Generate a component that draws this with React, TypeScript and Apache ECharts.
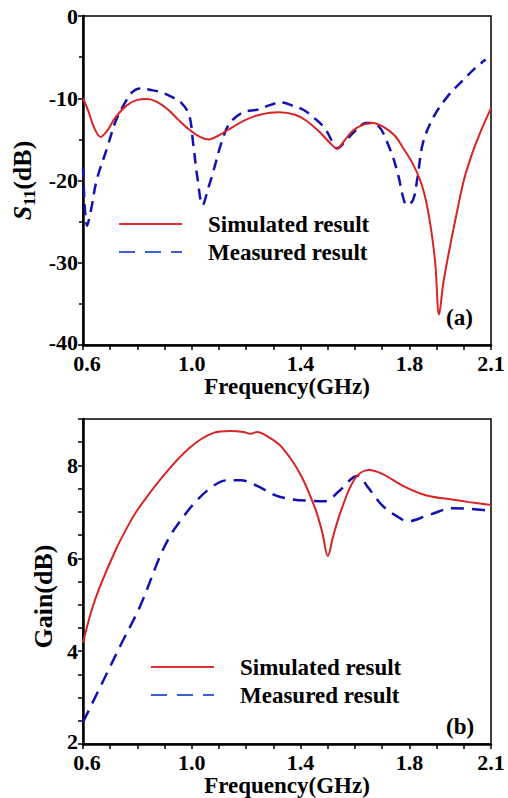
import React, { useEffect, useRef } from "react";
import * as echarts from "echarts";

// ---- (a) S11 data ----
const simS11Freq = [0.6, 0.62, 0.64, 0.665, 0.69, 0.72, 0.76, 0.8, 0.835, 0.87, 0.91, 0.95, 0.99, 1.03, 1.06, 1.1, 1.15, 1.2, 1.25, 1.32, 1.38, 1.42, 1.47, 1.51, 1.534, 1.56, 1.59, 1.63, 1.665, 1.7, 1.745, 1.78, 1.81, 1.84, 1.86, 1.88, 1.895, 1.909, 1.925, 1.95, 1.975, 2.0, 2.03, 2.06, 2.1];
const simS11 = [-10.0, -11.6, -13.5, -14.7, -13.9, -12.3, -10.9, -10.2, -10.1, -10.4, -11.3, -12.6, -13.8, -14.7, -15.0, -14.5, -13.5, -12.6, -12.0, -11.7, -12.0, -12.7, -14.1, -15.5, -16.1, -15.2, -14.0, -13.2, -13.0, -13.4, -14.5, -16.2, -17.8, -20.0, -22.3, -26.0, -30.0, -36.3, -32.4, -27.9, -23.8, -20.0, -16.8, -14.2, -11.2];

const meaS11Freq = [0.6, 0.615, 0.63, 0.65, 0.69, 0.72, 0.75, 0.78, 0.81, 0.85, 0.89, 0.93, 0.96, 0.99, 1.005, 1.02, 1.04, 1.06, 1.08, 1.11, 1.14, 1.19, 1.24, 1.29, 1.33, 1.37, 1.41, 1.45, 1.49, 1.52, 1.534, 1.57, 1.6, 1.64, 1.68, 1.73, 1.76, 1.775, 1.79, 1.813, 1.83, 1.85, 1.89, 1.94, 2.0, 2.04, 2.08];
const meaS11 = [-18.5, -25.5, -23.5, -20.0, -15.9, -12.8, -10.8, -9.3, -8.8, -9.0, -9.3, -9.9, -10.5, -12.0, -15.5, -19.5, -23.0, -21.0, -18.8, -15.3, -13.0, -11.7, -11.4, -10.8, -10.5, -10.9, -11.4, -12.4, -13.7, -15.5, -16.1, -15.0, -14.0, -13.0, -13.2, -16.3, -19.5, -21.8, -23.0, -22.4, -19.6, -15.4, -12.2, -9.8, -7.7, -6.4, -5.3];

// ---- (b) Gain data ----
const simGainFreq = [0.6, 0.63, 0.66, 0.72, 0.76, 0.8, 0.89, 0.99, 1.08, 1.14, 1.19, 1.215, 1.24, 1.28, 1.33, 1.4, 1.455, 1.48, 1.5, 1.52, 1.55, 1.6, 1.65, 1.7, 1.78, 1.86, 1.95, 2.02, 2.1];
const simGain = [4.18, 4.85, 5.36, 6.18, 6.64, 7.04, 7.74, 8.37, 8.7, 8.74, 8.72, 8.68, 8.72, 8.62, 8.4, 7.8, 7.05, 6.55, 6.05, 6.48, 7.05, 7.72, 7.9, 7.82, 7.55, 7.36, 7.27, 7.21, 7.15];

const meaGainFreq = [0.6, 0.69, 0.74, 0.81, 0.88, 0.92, 0.96, 1.005, 1.07, 1.13, 1.18, 1.24, 1.31, 1.37, 1.43, 1.49, 1.54, 1.61, 1.645, 1.7, 1.75, 1.795, 1.87, 1.96, 2.03, 2.1];
const meaGain = [2.47, 3.55, 4.15, 4.97, 6.0, 6.48, 6.82, 7.16, 7.52, 7.68, 7.68, 7.56, 7.35, 7.27, 7.24, 7.23, 7.44, 7.78, 7.55, 7.14, 6.92, 6.8, 6.93, 7.08, 7.06, 7.02];

// ---- axis ticks / labels ----
const xLabels = [0.6, 1.0, 1.4, 1.8, 2.1];
const s11Labels = [0, -10, -20, -30, -40];
const gainLabels = [2, 4, 6, 8];
const seriesNames = ["Simulated result", "Measured result"];

const FONT = '"Liberation Serif", "Times New Roman", serif';
const RED = "#d82424";
const BLUE = "#1212b0";

function pair(xs: number[], ys: number[]) {
  return xs.map((x, i) => [x, ys[i]]);
}

function inList(list: number[], v: number) {
  return list.some((t) => Math.abs(t - v) < 1e-6);
}

export default function App() {
  const ref = useRef<HTMLDivElement>(null);

  useEffect(() => {
    if (!ref.current) return;
    const chart = echarts.init(ref.current, undefined, { renderer: "svg" });

    const labelStyle = {
      fontFamily: FONT,
      fontWeight: "bold" as const,
      fontSize: 22,
      lineHeight: 16,
      color: "#000",
    };
    const titleStyle = {
      fontFamily: FONT,
      fontWeight: "bold" as const,
      fontSize: 23,
      color: "#000",
    };

    const xAxisBase = (gridIndex: number) => ({
      type: "value",
      gridIndex,
      min: 0.6,
      max: 2.1,
      interval: 0.1,
      name: "Frequency(GHz)",
      nameLocation: "middle",
      nameGap: 27,
      nameTextStyle: titleStyle,
      axisLine: { show: true, onZero: false, lineStyle: { color: "#000", width: 2.5 } },
      axisTick: { show: true, length: 5, lineStyle: { color: "#000", width: 1.5 } },
      splitLine: { show: false },
      axisLabel: {
        ...labelStyle,
        margin: 10,
        formatter: (v: number) =>
          Math.abs(v - 0.6) < 1e-6 ? "{first|0.6}" : inList(xLabels, v) ? v.toFixed(1) : "",
        rich: {
          first: { ...labelStyle, padding: [0, 0, 0, 8] },
        },
      },
    });

    const legendBase = (left: number, top: number) => ({
      left,
      top,
      orient: "vertical",
      padding: 0,
      itemWidth: 63,
      itemHeight: 14,
      itemGap: 2,
      selectedMode: false,
      data: [
        {
          name: seriesNames[0],
          lineStyle: { color: "#e03030", width: 2 },
          itemStyle: { opacity: 0, color: "transparent", borderWidth: 0 },
        },
        {
          name: seriesNames[1],
          lineStyle: { color: "#3a62d0", width: 2, type: [16, 10] },
          itemStyle: { opacity: 0, color: "transparent", borderWidth: 0 },
        },
      ],
      textStyle: { ...titleStyle, padding: [0, 0, 0, 21], lineHeight: 26 },
    });

    const yLabel = (list: number[], bottomVal: number) => ({
      ...labelStyle,
      margin: 5,
      formatter: (v: number) =>
        Math.abs(v - bottomVal) < 1e-6
          ? `{low|${Math.round(v)}}`
          : inList(list, v)
          ? String(Math.round(v))
          : "",
      rich: {
        low: { ...labelStyle, padding: [0, 0, 5, 0] },
      },
    });

    chart.setOption({
      animation: false,
      backgroundColor: "#fff",
      grid: [
        { left: 83, top: 16, width: 408, height: 329, show: true, borderColor: "#000", borderWidth: 1.5 },
        { left: 83, top: 419, width: 408, height: 328, show: true, borderColor: "#000", borderWidth: 1.5 },
      ],
      xAxis: [xAxisBase(0), xAxisBase(1)],
      yAxis: [
        {
          type: "value",
          gridIndex: 0,
          min: -40,
          max: 0,
          interval: 10,
          name: "{i|S}{sub|11}{n|(dB)}",
          nameLocation: "middle",
          nameRotate: 90,
          nameGap: 42,
          nameTextStyle: {
            rich: {
              i: { ...titleStyle, fontSize: 26, fontStyle: "italic", lineHeight: 30 },
              sub: { ...titleStyle, fontSize: 17, verticalAlign: "bottom", lineHeight: 16 },
              n: { ...titleStyle, fontSize: 26, lineHeight: 30 },
            },
          },
          axisLine: { show: true, onZero: false, lineStyle: { color: "#000", width: 2.5 } },
          axisTick: { show: true, length: 5, lineStyle: { color: "#000", width: 1.5 } },
          minorTick: { show: true, splitNumber: 2, length: 4, lineStyle: { color: "#000", width: 1.5 } },
          splitLine: { show: false },
          axisLabel: yLabel(s11Labels, -40),
        },
        {
          type: "value",
          gridIndex: 1,
          min: 2,
          max: 9,
          interval: 0.5,
          name: "Gain(dB)",
          nameLocation: "middle",
          nameRotate: 90,
          nameGap: 23,
          nameTextStyle: { ...titleStyle, fontSize: 26, padding: [0, 30, 0, 0] },
          axisLine: { show: true, onZero: false, lineStyle: { color: "#000", width: 2.5 } },
          axisTick: { show: true, length: 5, lineStyle: { color: "#000", width: 1.5 } },
          splitLine: { show: false },
          axisLabel: yLabel(gainLabels, 2),
        },
      ],
      legend: [legendBase(118, 211), legendBase(150, 654)],
      series: [
        {
          name: seriesNames[0],
          type: "line",
          xAxisIndex: 0,
          yAxisIndex: 0,
          data: pair(simS11Freq, simS11),
          smooth: 0.35,
          symbol: "none",
          lineStyle: { color: RED, width: 2 },
          itemStyle: { color: RED },
          z: 3,
        },
        {
          name: seriesNames[1],
          type: "line",
          xAxisIndex: 0,
          yAxisIndex: 0,
          data: pair(meaS11Freq, meaS11),
          smooth: 0.35,
          symbol: "none",
          lineStyle: { color: BLUE, width: 2.5, type: [11, 7] },
          itemStyle: { color: BLUE },
          z: 2,
        },
        {
          name: seriesNames[0],
          type: "line",
          xAxisIndex: 1,
          yAxisIndex: 1,
          data: pair(simGainFreq, simGain),
          smooth: 0.35,
          symbol: "none",
          lineStyle: { color: RED, width: 2 },
          itemStyle: { color: RED },
          z: 3,
        },
        {
          name: seriesNames[1],
          type: "line",
          xAxisIndex: 1,
          yAxisIndex: 1,
          data: pair(meaGainFreq, meaGain),
          smooth: 0.35,
          symbol: "none",
          lineStyle: { color: BLUE, width: 2.5, type: [13, 8] },
          itemStyle: { color: BLUE },
          z: 2,
        },
      ],
      graphic: [
        {
          type: "text",
          left: 446,
          top: 306,
          style: { text: "(a)", fill: "#000", font: `bold 23px ${FONT}` },
        },
        {
          type: "text",
          left: 446,
          top: 715,
          style: { text: "(b)", fill: "#000", font: `bold 23px ${FONT}` },
        },
      ],
    });

    return () => chart.dispose();
  }, []);

  return (
    <div
      ref={ref}
      style={{ position: "fixed", left: 0, top: 0, width: 508, height: 798, background: "#fff" }}
    />
  );
}
